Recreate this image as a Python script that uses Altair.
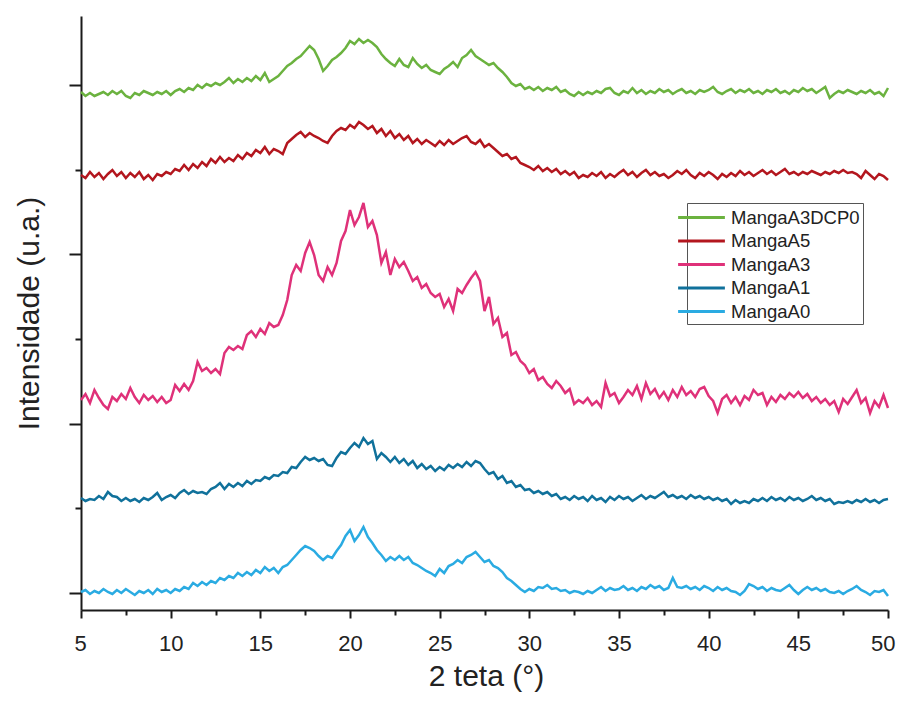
import numpy as np
import pandas as pd
import altair as alt

# 2-theta grid (degrees), 0.25 deg steps from 5 to 50
two_theta = np.round(np.arange(5.0, 50.001, 0.25), 2)

manga_a0 = [
    1, 3, -1, 2, 0, 4, 1, -1, 3, 0, 4, 1, -2, 2, 0, 3, -1, 4, 1, 3,
    0, 4, 2, 6, 4, 10, 7, 11, 8, 12, 10, 15, 13, 17, 15, 20, 17, 21, 18, 23,
    20, 26, 22, 25, 20, 26, 28, 33, 38, 43, 47, 45, 42, 37, 33, 37, 35, 42, 48, 57,
    63, 52, 58, 66, 56, 50, 43, 38, 32, 36, 33, 37, 33, 36, 30, 28, 25, 22, 20, 17,
    24, 20, 27, 29, 33, 30, 36, 38, 41, 36, 31, 33, 27, 25, 21, 15, 12, 8, 4, 1,
    4, 2, 6, 5, 8, 4, 5, 2, 3, 0, 2, 1, -1, 2, 0, 3, 6, 2, 5, 3,
    4, 7, 3, 5, 2, 6, 4, 8, 5, 7, 3, 5, 15, 6, 5, 7, 4, 6, 3, 7,
    5, 2, 6, 3, 5, 2, 1, -2, 2, 9, 7, 4, 6, 2, 5, 3, 2, 5, 8, 3,
    -1, 3, 6, 3, 5, 2, 4, 1, 0, 2, -1, 2, 4, 7, 3, 1, -2, 2, 1, 3,
    -3,
]

manga_a1 = [
    95, 92, 94, 93, 97, 94, 101, 97, 96, 92, 95, 92, 94, 91, 95, 93, 96, 100, 93, 96,
    98, 95, 100, 103, 99, 102, 100, 101, 99, 104, 106, 110, 104, 109, 106, 110, 107, 112, 109, 113,
    112, 116, 114, 118, 117, 121, 120, 126, 125, 131, 136, 133, 135, 132, 134, 128, 127, 135, 141, 139,
    145, 150, 146, 155, 149, 152, 134, 140, 136, 131, 136, 130, 134, 128, 132, 125, 129, 124, 127, 122,
    126, 123, 128, 125, 129, 126, 131, 127, 132, 130, 124, 119, 121, 114, 117, 110, 112, 106, 108, 103,
    104, 100, 102, 99, 101, 97, 99, 94, 96, 93, 97, 94, 96, 92, 97, 93, 95, 91, 96, 93,
    97, 94, 96, 92, 95, 98, 94, 97, 95, 98, 101, 96, 98, 95, 97, 94, 98, 95, 97, 94,
    96, 93, 95, 92, 94, 89, 93, 90, 92, 90, 94, 92, 95, 92, 96, 93, 95, 92, 96, 93,
    95, 92, 94, 97, 93, 95, 92, 94, 89, 91, 90, 92, 90, 93, 91, 94, 91, 93, 90, 93,
    94,
]

manga_a3 = [
    193, 199, 190, 203, 195, 188, 184, 196, 192, 199, 194, 205, 196, 190, 198, 193, 197, 191, 196, 190,
    193, 208, 202, 209, 203, 212, 231, 222, 225, 220, 224, 219, 240, 246, 243, 247, 244, 258, 262, 256,
    264, 259, 270, 266, 268, 278, 293, 318, 328, 322, 340, 351, 338, 318, 312, 326, 318, 330, 352, 362,
    383, 368, 376, 390, 366, 372, 358, 330, 341, 318, 334, 326, 331, 322, 312, 316, 305, 309, 300, 296,
    299, 286, 294, 282, 304, 300, 308, 315, 321, 312, 282, 296, 269, 275, 256, 260, 238, 241, 232, 228,
    220, 224, 213, 216, 209, 205, 212, 207, 200, 204, 189, 193, 190, 195, 188, 192, 186, 210, 197, 200,
    190, 196, 203, 198, 207, 194, 210, 199, 204, 195, 201, 193, 203, 196, 206, 198, 202, 196, 204, 206,
    197, 192, 180, 194, 198, 190, 196, 188, 197, 193, 203, 198, 200, 188, 196, 191, 198, 194, 200, 196,
    201, 195, 199, 192, 196, 190, 194, 188, 192, 181, 194, 189, 196, 203, 190, 195, 180, 192, 186, 198,
    185,
]

manga_a5 = [
    418, 415, 421, 416, 420, 414, 419, 423, 417, 421, 415, 420, 416, 421, 414, 418, 413, 419, 417, 421,
    419, 424, 422, 428, 423, 429, 425, 431, 427, 434, 430, 436, 431, 435, 432, 438, 434, 440, 437, 443,
    440, 446, 439, 444, 442, 439, 450, 454, 458, 461, 456, 460, 457, 455, 452, 450, 457, 462, 465, 463,
    468, 465, 471, 468, 464, 467, 460, 464, 457, 462, 455, 459, 453, 457, 450, 454, 449, 453, 450, 447,
    452, 448, 453, 449, 452, 455, 457, 451, 449, 453, 446, 449, 445, 441, 437, 439, 434, 436, 430, 428,
    426, 423, 427, 422, 425, 421, 424, 419, 422, 418, 421, 415, 418, 416, 420, 417, 421, 415, 419, 416,
    420, 423, 418, 421, 416, 420, 423, 418, 421, 417, 419, 415, 418, 422, 419, 423, 418, 415, 420, 417,
    421, 418, 414, 419, 416, 420, 417, 422, 418, 421, 417, 420, 423, 419, 422, 418, 421, 424, 419, 421,
    418, 421, 419, 422, 420, 418, 421, 419, 422, 420, 423, 420, 421, 419, 415, 422, 418, 414, 419, 417,
    413,
]

manga_a3dcp0 = [
    501, 497, 500, 497, 499, 501, 498, 502, 499, 502, 497, 495, 500, 498, 502, 500, 498, 501, 499, 502,
    498, 502, 504, 501, 505, 503, 508, 505, 509, 507, 510, 508, 511, 515, 510, 514, 511, 515, 512, 517,
    513, 520, 511, 514, 517, 522, 527, 530, 534, 537, 542, 547, 543, 534, 522, 527, 533, 536, 540, 545,
    552, 549, 554, 550, 553, 550, 546, 539, 534, 530, 527, 534, 528, 526, 535, 529, 525, 528, 523, 521,
    519, 524, 527, 531, 526, 535, 538, 543, 537, 534, 531, 528, 530, 525, 521, 516, 510, 507, 509, 504,
    506, 503, 506, 502, 505, 503, 506, 501, 503, 499, 497, 501, 498, 501, 499, 502, 500, 504, 505, 500,
    498, 502, 500, 505, 500, 503, 499, 502, 500, 504, 501, 503, 499, 502, 504, 500, 502, 499, 503, 501,
    503, 506, 501, 499, 502, 504, 500, 503, 501, 504, 500, 502, 499, 503, 501, 504, 500, 502, 499, 503,
    501, 505, 502, 504, 500, 503, 506, 495, 499, 502, 500, 503, 501, 499, 502, 500, 503, 499, 501, 497,
    505,
]

series_names = ["MangaA3DCP0", "MangaA5", "MangaA3", "MangaA1", "MangaA0"]
series_values = [manga_a3dcp0, manga_a5, manga_a3, manga_a1, manga_a0]
series_colors = ["#6BB23F", "#B3161E", "#DF3179", "#10719B", "#2AABE2"]

x_ticks = [5 + 2.5 * i for i in range(19)]
y_ticks = [0, 85, 169, 254, 339, 423, 508]

frames = []
for name, vals in zip(series_names, series_values):
    frames.append(pd.DataFrame({"x": two_theta, "y": vals, "serie": name}))
df = pd.concat(frames, ignore_index=True)

FONT = "Liberation Sans"

chart = (
    alt.Chart(df)
    .mark_line(strokeWidth=2.5)
    .encode(
        x=alt.X(
            "x:Q",
            scale=alt.Scale(domain=[5, 50], nice=False, zero=False),
            axis=alt.Axis(
                title="2 teta (°)",
                values=x_ticks,
                labelExpr="datum.value % 5 === 0 ? datum.label : ''",
                tickSize={"condition": {"test": "datum.value % 5 === 0", "value": 8}, "value": 5},
                labelFontSize=22,
                labelFont=FONT,
                labelColor="#222222",
                labelPadding=15,
                labelFlush=True,
                labelFlushOffset=7,
                titleFontSize=30,
                titleFont=FONT,
                titleFontWeight="normal",
                titleColor="#222222",
                titleBaseline="alphabetic",
                titleX=405,
                titleY=75,
                domainColor="#1a1a1a",
                domainWidth=2,
                tickColor="#1a1a1a",
                tickWidth=2,
                grid=False,
            ),
        ),
        y=alt.Y(
            "y:Q",
            scale=alt.Scale(domain=[-17, 577], nice=False, zero=False),
            axis=alt.Axis(
                title="Intensidade (u.a.)",
                values=y_ticks,
                labels=False,
                tickSize={"condition": {"test": "indexof([0,169,339,508], datum.value) >= 0", "value": 12}, "value": 6},
                titleFontSize=30,
                titleFont=FONT,
                titleFontWeight="normal",
                titleColor="#222222",
                titleBaseline="alphabetic",
                titleAngle=270,
                titleX=-43,
                titleY=297,
                domainColor="#1a1a1a",
                domainWidth=2,
                tickColor="#1a1a1a",
                tickWidth=2,
                grid=False,
            ),
        ),
        color=alt.Color(
            "serie:N",
            scale=alt.Scale(domain=series_names, range=series_colors),
            legend=alt.Legend(
                title=None,
                orient="none",
                legendX=606,
                legendY=187,
                symbolType="M-2.4,0H2.4",
                symbolSize=380,
                symbolStrokeWidth=3,
                labelFontSize=18.5,
                labelFont=FONT,
                labelColor="#222222",
                labelOffset=18,
                rowPadding=2.5,
                padding=3,
                strokeColor="#555555",
            ),
        ),
    )
    .properties(
        width=807,
        height=594,
        autosize=alt.AutoSizeParams(type="none"),
        padding={"left": 73, "top": 8, "right": 8, "bottom": 83},
    )
    .configure_view(strokeWidth=0)
)

chart.save("out.html", embed_options={"renderer": "svg", "actions": False})
